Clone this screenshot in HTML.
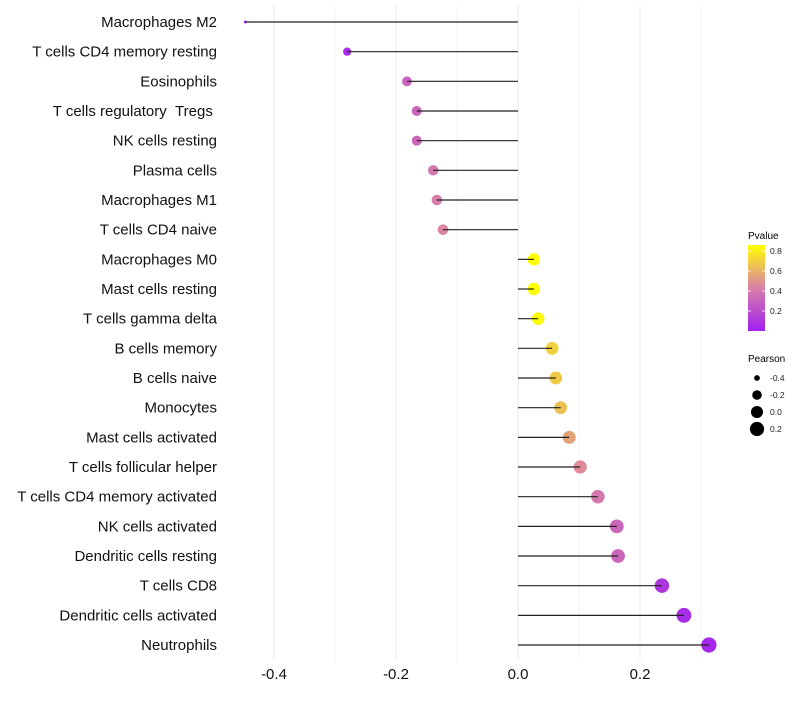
<!DOCTYPE html>
<html><head><meta charset="utf-8"><style>
body{margin:0;background:#fff;width:800px;height:700px;overflow:hidden;font-family:"Liberation Sans",sans-serif}
</style></head><body>
<svg id="chart" width="800" height="700" xmlns="http://www.w3.org/2000/svg">
<defs><linearGradient id="pg" x1="0" y1="1" x2="0" y2="0">
<stop offset="0" stop-color="#A020F0"/><stop offset="0.5" stop-color="#D97FA8"/><stop offset="1" stop-color="#FFFF00"/></linearGradient></defs>
<g id="grid"></g>
<g id="marks"></g>
<g id="ylabels"></g>
<g id="xlabels"></g>
<g>
<text x="748" y="239" font-size="10" fill="#000">Pvalue</text>
<rect x="748" y="245" width="17" height="86" fill="url(#pg)"/>
<g id="pticks"></g>
</g>
<g id="sizeleg">
<text x="748" y="362" font-size="10" fill="#000">Pearson</text>
</g>
</svg>
<script>
const categories=["Macrophages M2","T cells CD4 memory resting","Eosinophils","T cells regulatory\u00a0\u00a0Tregs\u00a0","NK cells resting","Plasma cells","Macrophages M1","T cells CD4 naive","Macrophages M0","Mast cells resting","T cells gamma delta","B cells memory","B cells naive","Monocytes","Mast cells activated","T cells follicular helper","T cells CD4 memory activated","NK cells activated","Dendritic cells resting","T cells CD8","Dendritic cells activated","Neutrophils"];
const pearson=[-0.447,-0.280,-0.182,-0.166,-0.166,-0.139,-0.133,-0.123,0.026,0.026,0.033,0.056,0.062,0.070,0.084,0.102,0.131,0.162,0.164,0.236,0.272,0.313];
const pvalue=[0.03,0.05,0.30,0.32,0.32,0.40,0.42,0.45,0.86,0.86,0.85,0.70,0.68,0.65,0.55,0.47,0.40,0.32,0.32,0.10,0.06,0.03];
const xTicks=[-0.4,-0.2,0.0,0.2];
const xTickLabels=["-0.4","-0.2","0.0","0.2"];
const xGrid=[-0.4,-0.3,-0.2,-0.1,0,0.1,0.2,0.3];
const pTicks=[0.2,0.4,0.6,0.8];
const sizeLegend=[-0.4,-0.2,0.0,0.2];

const NS="http://www.w3.org/2000/svg";
const x=v=>518+v*610;
const y=i=>22+i*29.667;
const r=p=>{const s=Math.sqrt(Math.max(0.5,2.25+61.5*(p+0.447)));return p<-0.44?s:s+0.6;};
function lerp(a,b,t){return a.map((v,i)=>Math.round(v+(b[i]-v)*t));}
function col(p){const t=Math.max(0,Math.min(1,p/0.86));const A=[160,32,240],M=[217,127,168],Y=[255,255,0];
 const c=t<0.5?lerp(A,M,t/0.5):lerp(M,Y,(t-0.5)/0.5);return `rgb(${c})`;}
function mk(tag,at,parent){const e=document.createElementNS(NS,tag);for(const k in at)e.setAttribute(k,at[k]);parent.appendChild(e);return e;}
const grid=document.getElementById('grid'),marks=document.getElementById('marks'),yl=document.getElementById('ylabels'),xl=document.getElementById('xlabels');
xGrid.forEach(v=>{const l=mk('line',{x1:x(v),x2:x(v),y1:5,y2:660,stroke:'#ebebeb','stroke-width':Math.abs(v*10%2)<0.01?1:0.6},grid);

});
categories.forEach((c,i)=>{
 const ci=mk('circle',{cx:x(pearson[i]),cy:y(i),r:r(pearson[i]),fill:col(pvalue[i])},marks);
 
 
 const ln=mk('line',{x1:x(0),x2:x(pearson[i]),y1:y(i),y2:y(i),stroke:'#222','stroke-width':1.2},marks);
 
 
 const t=mk('text',{x:217,y:y(i)+5,'text-anchor':'end','font-size':15,fill:'#111'},yl);t.textContent=c;
 
 
});
xTicks.forEach((v,i)=>{const t=mk('text',{x:x(v),y:679,'text-anchor':'middle','font-size':15,fill:'#111'},xl);t.textContent=xTickLabels[i];
 
 });
const pt=document.getElementById('pticks');
pTicks.forEach(v=>{const yy=331-v*100;
 mk('line',{x1:748,x2:751,y1:yy,y2:yy,stroke:'#fff','stroke-width':0.8},pt);mk('line',{x1:762,x2:765,y1:yy,y2:yy,stroke:'#fff','stroke-width':0.8},pt);
 const t=mk('text',{x:770,y:yy+3,'font-size':8.5,fill:'#222'},pt);t.textContent=v.toFixed(1);
 
 });
const sl=document.getElementById('sizeleg');
sizeLegend.forEach((v,i)=>{const yy=378+i*17;
 const c=mk('circle',{cx:757,cy:yy,r:r(v),fill:'#000'},sl);
 
 
 const t=mk('text',{x:770,y:yy+3,'font-size':8.5,fill:'#222'},sl);t.textContent=v.toFixed(1);
 
 });
</script>
</body></html>
